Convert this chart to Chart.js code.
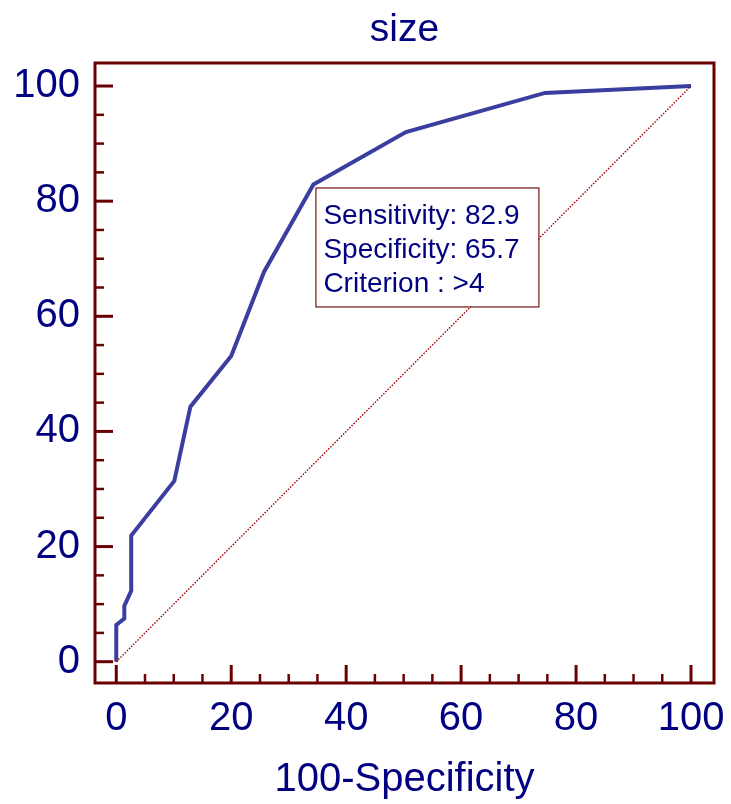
<!DOCTYPE html>
<html>
<head>
<meta charset="utf-8">
<script src="https://cdn.jsdelivr.net/npm/chart.js@4.4.1/dist/chart.umd.min.js"></script>
<style>
  html, body { margin: 0; padding: 0; background: #fff; }
  canvas { display: block; }
</style>
</head>
<body>
<canvas id="roc" width="731" height="804"></canvas>
<script>
// ROC curve points (100-Specificity, Sensitivity)
var fpr = [0, 0, 1.4, 1.4, 2.6, 2.6, 10.1, 12.9, 20.0, 25.7, 34.3, 50.4, 74.6, 100];
var tpr = [0, 6.4, 7.5, 9.7, 12.3, 21.9, 31.4, 44.3, 53.1, 67.7, 82.9, 92.0, 98.8, 100];
var diagX = [0, 100];
var diagY = [0, 100];
var tickValues = [0, 20, 40, 60, 80, 100];
var minorStep = 5;
var criterionPoint = [34.3, 82.9];
var infoLines = ['Sensitivity: 82.9', 'Specificity: 65.7', 'Criterion : >4'];
var chartTitle = 'size';

var navy = '#000080';
var maroon = '#6b0000';
var fontFamily = '"Liberation Sans", Arial, sans-serif';

function toPoints(xs, ys) {
    return xs.map(function (x, i) { return {x: x, y: ys[i]}; });
}

var framePlugin = {
    id: 'frame',
    afterDatasetsDraw: function (chart) {
        var ctx = chart.ctx;
        var a = chart.chartArea;
        var xs = chart.scales.x, ys = chart.scales.y;
        ctx.save();

        // title, centred over the plot box
        ctx.fillStyle = navy;
        ctx.font = '39px ' + fontFamily;
        ctx.textAlign = 'center';
        ctx.textBaseline = 'middle';
        ctx.fillText(chartTitle, (a.left + a.right) / 2, 30);

        // info box anchored on the selected criterion
        var bx = xs.getPixelForValue(criterionPoint[0]) + 2;
        var by = ys.getPixelForValue(criterionPoint[1]) + 3;
        ctx.fillStyle = '#fff';
        ctx.fillRect(bx, by, 223, 119);
        ctx.strokeStyle = '#7a1515';
        ctx.lineWidth = 1.2;
        ctx.strokeRect(bx + 0.5, by + 0.5, 223, 119);
        ctx.fillStyle = navy;
        ctx.font = '28px ' + fontFamily;
        ctx.textAlign = 'left';
        ctx.textBaseline = 'alphabetic';
        infoLines.forEach(function (t, i) {
            ctx.fillText(t, bx + 8, by + 37 + i * 34);
        });

        // frame
        ctx.strokeStyle = maroon;
        ctx.lineWidth = 3;
        ctx.strokeRect(a.left, a.top, a.right - a.left, a.bottom - a.top);

        // inward ticks on left and bottom
        for (var v = 0; v <= 100; v += minorStep) {
            var major = v % 20 === 0;
            var len = major ? 18 : 9;
            ctx.lineWidth = major ? 3 : 2.5;
            var px = xs.getPixelForValue(v);
            ctx.beginPath();
            ctx.moveTo(px, a.bottom);
            ctx.lineTo(px, a.bottom - len);
            ctx.stroke();
            var py = ys.getPixelForValue(v);
            ctx.beginPath();
            ctx.moveTo(a.left, py);
            ctx.lineTo(a.left + len, py);
            ctx.stroke();
        }
        ctx.restore();
    }
};

function fixTicks(scale) {
    scale.ticks = tickValues.map(function (v) { return {value: v}; });
}

var chart = new Chart(document.getElementById('roc').getContext('2d'), {
    type: 'line',
    data: {
        datasets: [{
            data: toPoints(diagX, diagY),
            borderColor: '#a00000',
            borderWidth: 1.4,
            borderDash: [1.5, 1.5],
            pointRadius: 0,
            tension: 0
        }, {
            data: toPoints(fpr, tpr),
            borderColor: '#3a3e9e',
            borderWidth: 4,
            pointRadius: 0,
            tension: 0,
            borderJoinStyle: 'miter'
        }]
    },
    options: {
        responsive: false,
        animation: false,
        layout: {padding: {top: 63, right: 17}},
        plugins: {
            legend: {display: false},
            tooltip: {enabled: false},
            title: {display: false}
        },
        scales: {
            x: {
                type: 'linear',
                min: -3.7,
                max: 104,
                grid: {display: false, drawTicks: false},
                border: {display: false},
                afterBuildTicks: fixTicks,
                ticks: {
                    color: navy,
                    font: {family: fontFamily, size: 40},
                    padding: 12,
                    maxRotation: 0
                },
                title: {
                    display: true,
                    text: '100-Specificity',
                    color: navy,
                    font: {family: fontFamily, size: 40},
                    padding: {top: 0, bottom: 0}
                },
                afterFit: function (s) {
                    s.height = 121;
                    s.paddingLeft = 0;
                    s.paddingRight = 0;
                }
            },
            y: {
                type: 'linear',
                min: -3.7,
                max: 104,
                grid: {display: false, drawTicks: false},
                border: {display: false},
                afterBuildTicks: fixTicks,
                ticks: {
                    color: navy,
                    font: {family: fontFamily, size: 40},
                    padding: 15
                },
                afterFit: function (s) {
                    s.width = 95;
                    s.paddingTop = 0;
                    s.paddingBottom = 0;
                }
            }
        }
    },
    plugins: [framePlugin]
});
</script>
</body>
</html>
